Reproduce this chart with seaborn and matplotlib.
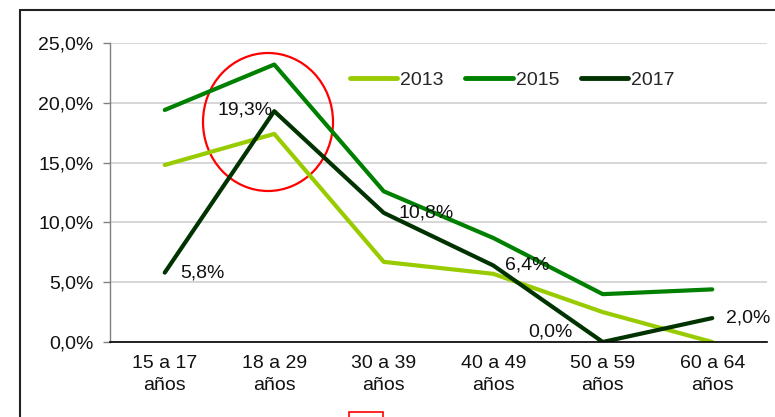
import pandas as pd
import matplotlib
matplotlib.use("Agg")
import matplotlib.pyplot as plt
import seaborn as sb
from matplotlib.patches import Ellipse, Rectangle
from matplotlib.lines import Line2D
from matplotlib.ticker import FuncFormatter, FixedLocator

# data
groups = ['15 a 17\naños', '18 a 29\naños', '30 a 39\naños',
          '40 a 49\naños', '50 a 59\naños', '60 a 64\naños']
years = ['2013', '2015', '2017']
v2013 = [14.8, 17.4, 6.7, 5.7, 2.5, 0.0]
v2015 = [19.4, 23.2, 12.6, 8.7, 4.0, 4.4]
v2017 = [5.8, 19.3, 10.8, 6.4, 0.0, 2.0]
labels2017 = ['5,8%', '19,3%', '10,8%', '6,4%', '0,0%', '2,0%']
colors = ['#99cc00', '#008000', '#003300']

rows = []
for yr, vals in zip(years, [v2013, v2015, v2017]):
    for i, v in enumerate(vals):
        rows.append({'grupo': i, 'valor': v / 100, 'anio': yr})
Data = pd.DataFrame(rows)

sb.set_style('white')
plt.rcParams['font.family'] = ['Liberation Sans', 'DejaVu Sans']

fig = plt.figure(figsize=(7.75, 4.17), dpi=100)
ax = fig.add_axes([110 / 775, 1 - 342 / 417, 657 / 775, 299 / 417])

sb.lineplot(data=Data, x='grupo', y='valor', hue='anio', palette=colors,
            linewidth=3, sort=False, ax=ax, legend=False)

ax.set_xlim(-0.5, 5.5)
ax.set_ylim(0, 0.25)
ax.set_yticks([0, 0.05, 0.10, 0.15, 0.20, 0.25])
ax.yaxis.set_major_formatter(FuncFormatter(lambda v, p: f'{v*100:.1f}%'.replace('.', ',')))
ax.set_xticks(range(len(groups)))
ax.set_xticklabels(groups, linespacing=1.45)
ax.xaxis.set_minor_locator(FixedLocator([i - 0.5 for i in range(len(groups) + 1)]))
ax.tick_params(axis='x', which='major', length=0, pad=9, labelsize=14, colors='#111111')
ax.tick_params(axis='x', which='minor', length=5, width=1, color='#808080', direction='out')
ax.tick_params(axis='y', length=5, width=1, color='#808080', pad=7, labelsize=14,
               labelcolor='#111111', direction='out', left=True)
ax.set_xlabel('')
ax.set_ylabel('')

ax.grid(axis='y', color='#d0d0d0', linewidth=1.2)
ax.set_axisbelow(True)
for s in ['top', 'right']:
    ax.spines[s].set_visible(False)
ax.spines['left'].set_color('#808080')
ax.spines['left'].set_linewidth(1)
ax.spines['bottom'].set_color('black')
ax.spines['bottom'].set_linewidth(1.2)

# data labels 2017 (offsets in pixels, y up)
offsets = [(15, 0, 'left'), (-2, 1, 'right'), (15, 0, 'left'),
           (12, 0, 'left'), (-30, 10, 'right'), (14, 0, 'left')]
for i, (v, t) in enumerate(zip(v2017, labels2017)):
    dx, dy, ha = offsets[i]
    ax.annotate(t, (i, v / 100), xytext=(dx * 0.72, dy * 0.72), textcoords='offset points',
                ha=ha, va='center', fontsize=14, color='#111111')

# legend
handles = [Line2D([], [], color=c, linewidth=3.5) for c in colors]
ax.legend(handles, years, loc='center left', bbox_to_anchor=(0.365, 0.877), ncol=3,
          frameon=False, fontsize=14, handlelength=2.45, handletextpad=0.15,
          columnspacing=1.1, borderpad=0, borderaxespad=0)

# red circle
ax.add_patch(Ellipse((0.2405, 0.7358), 0.1979, 0.4615, transform=ax.transAxes,
                     fill=False, edgecolor='red', linewidth=1.6, clip_on=False))

# outer frame and cut marker
fig.add_artist(Line2D([20 / 775, 20 / 775], [0, 1 - 10 / 417], color='#222222', linewidth=1.5))
fig.add_artist(Line2D([20 / 775, 1], [1 - 10 / 417, 1 - 10 / 417], color='#222222', linewidth=1.5))
fig.add_artist(Rectangle((349 / 775, -0.01), 34 / 775, 5 / 417 + 0.01, transform=fig.transFigure,
                         fill=False, edgecolor='red', linewidth=1.2))

plt.savefig('out.png', dpi=100)
